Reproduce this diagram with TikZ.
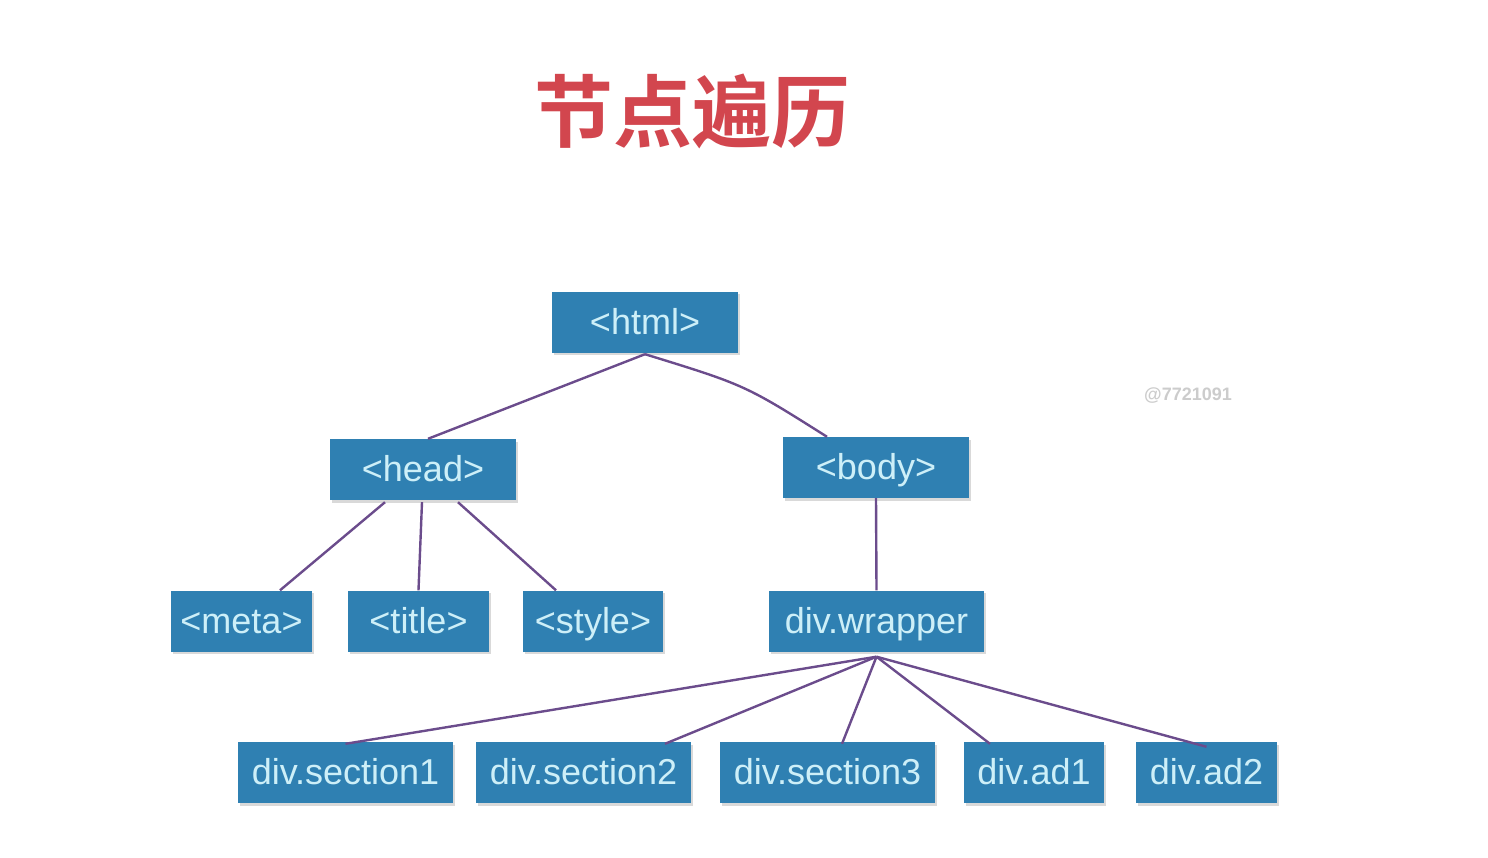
\documentclass[tikz,border=0pt]{standalone}
\usepackage{fontspec}
\setmainfont{Liberation Sans}
\newfontfamily\cjk{Noto Sans CJK SC Bold}
\usetikzlibrary{shadows}
\definecolor{boxblue}{HTML}{2F80B2}
\definecolor{boxtext}{HTML}{CDEFF8}
\definecolor{linkpurple}{HTML}{6B4C8C}
\definecolor{titlered}{HTML}{D2464E}
\tikzset{
  tag/.style={fill=boxblue, text=boxtext, minimum height=61pt, inner sep=0pt,
    text height=29pt, text depth=5pt,
    font=\fontsize{36}{40}\selectfont,
    drop shadow={opacity=0.3, shadow xshift=2pt, shadow yshift=-2.5pt}},
  link/.style={draw=linkpurple, line width=2.4pt}
}
\begin{document}
\begin{tikzpicture}[x=1pt,y=-1pt]
\useasboundingbox (0,0) rectangle (1488,858);
\node[text=titlered, font=\cjk\fontsize{79}{84}\selectfont] (ttl) at (692,111) {节点遍历};
\node[text=black!20, font=\bfseries\fontsize{18}{20}\selectfont] (wm) at (1188,396) {@7721091};

\node[tag, minimum width=186pt] (html) at (645,322.5) {<html>};
\node[tag, minimum width=186pt] (head) at (423,469.5) {<head>};
\node[tag, minimum width=186pt] (body) at (876,467.5) {<body>};
\node[tag, minimum width=141pt] (meta) at (241.5,621) {<meta>};
\node[tag, minimum width=141pt] (title) at (418.5,621) {<title>};
\node[tag, minimum width=140pt] (style) at (593,621) {<style>};
\node[tag, minimum width=215pt] (wrap) at (876.5,621) {div.wrapper};
\node[tag, minimum width=215pt] (s1) at (345.5,772.5) {div.section1};
\node[tag, minimum width=215pt] (s2) at (583.5,772.5) {div.section2};
\node[tag, minimum width=215pt] (s3) at (827.5,772.5) {div.section3};
\node[tag, minimum width=140pt] (ad1) at (1034,772.5) {div.ad1};
\node[tag, minimum width=141pt] (ad2) at (1206.5,772.5) {div.ad2};

\coordinate (hb) at ([yshift=-1pt]html.south);
\draw[link] (hb) -- ([xshift=5pt]head.north);
\draw[link] (hb) .. controls (745,385) .. ([xshift=-49pt]body.north);
\draw[link] ([xshift=-38pt,yshift=-2pt]head.south) -- ([xshift=38.5pt]meta.north);
\draw[link] ([xshift=-1pt,yshift=-2pt]head.south) -- (title.north);
\draw[link] ([xshift=35pt,yshift=-2pt]head.south) -- ([xshift=-37pt]style.north);
\draw[link] (body.south) -- (wrap.north);
\coordinate (wb) at ([yshift=-5pt]wrap.south);
\draw[link] (wb) -- ([yshift=-2pt]s1.north);
\draw[link] (wb) -- ([xshift=81.5pt,yshift=-2pt]s2.north);
\draw[link] (wb) -- ([xshift=14.5pt,yshift=-2pt]s3.north);
\draw[link] (wb) -- ([xshift=-44pt,yshift=-2pt]ad1.north);
\draw[link] (wb) -- ([yshift=-5pt]ad2.north);
\end{tikzpicture}
\end{document}
